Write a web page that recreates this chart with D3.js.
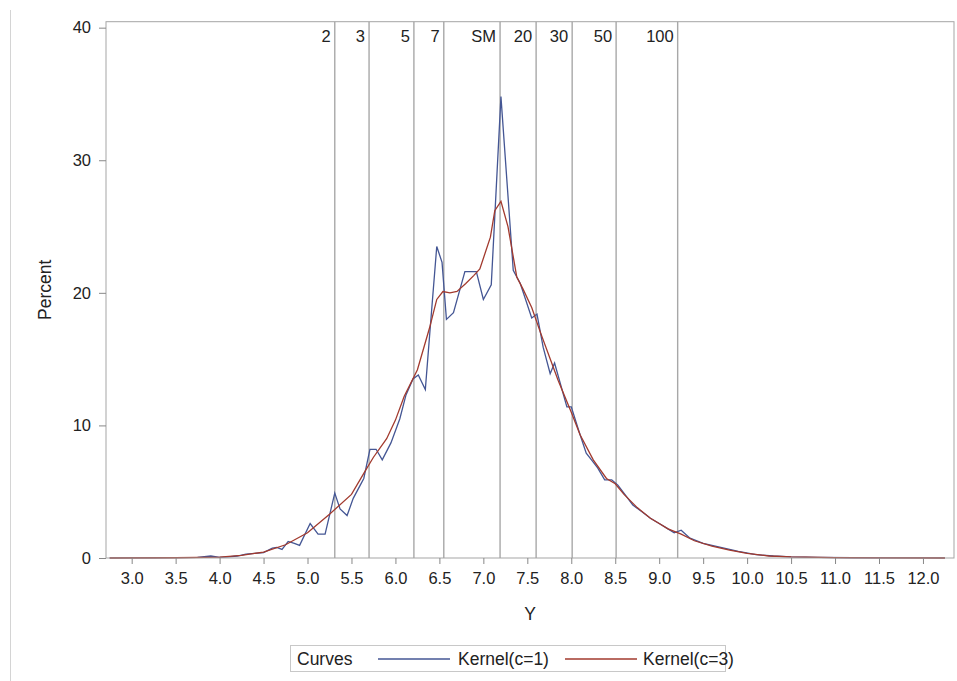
<!DOCTYPE html>
<html>
<head>
<meta charset="utf-8">
<script src="https://cdn.jsdelivr.net/npm/d3@7"></script>
<style>
  body { margin: 0; background: #fff; }
  text { font-family: "Liberation Sans", Arial, sans-serif; fill: #222; }
</style>
</head>
<body>
<div id="chart"></div>
<script>
// kernel c=1 (blue)
var k1X = [2.75, 3.0, 3.25, 3.5, 3.75, 3.9, 4.0, 4.1, 4.2, 4.3, 4.4, 4.5, 4.6, 4.65, 4.71, 4.78, 4.85, 4.91,
  5.03, 5.12, 5.2, 5.31, 5.37, 5.45, 5.52, 5.6, 5.64, 5.71, 5.78, 5.85, 5.95, 6.05, 6.12, 6.2, 6.26, 6.34,
  6.39, 6.47, 6.53, 6.58, 6.66, 6.79, 6.92, 7.0, 7.09, 7.2, 7.34, 7.42, 7.55, 7.61, 7.68, 7.76, 7.81, 7.95,
  8.0, 8.09, 8.17, 8.23, 8.3, 8.38, 8.46, 8.53, 8.62, 8.7, 8.8, 8.9, 9.0, 9.1, 9.17, 9.25, 9.35, 9.5, 9.7,
  9.9, 10.1, 10.3, 10.5, 10.8, 11.2, 11.6, 12.0, 12.25];
var k1Y = [0.0, 0.01, 0.02, 0.03, 0.05, 0.15, 0.05, 0.08, 0.15, 0.3, 0.35, 0.4, 0.75, 0.8, 0.65, 1.25, 1.1, 0.95,
  2.6, 1.8, 1.8, 4.9, 3.7, 3.2, 4.5, 5.5, 6.0, 8.2, 8.2, 7.4, 8.7, 10.5, 12.3, 13.5, 13.8, 12.7,
  16.9, 23.5, 22.3, 18.0, 18.5, 21.6, 21.6, 19.5, 20.6, 34.8, 21.7, 20.7, 18.1, 18.4, 15.9, 13.9, 14.7, 11.4,
  11.4, 9.5, 7.9, 7.4, 6.8, 5.9, 5.9, 5.5, 4.7, 4.0, 3.5, 3.0, 2.6, 2.2, 1.9, 2.1, 1.5, 1.1, 0.8,
  0.5, 0.25, 0.15, 0.08, 0.04, 0.02, 0.01, 0.01, 0.0];

// kernel c=3 (red)
var k3X = [2.75, 3.5, 4.0, 4.25, 4.5, 4.75, 5.0, 5.25, 5.5, 5.65, 5.75, 5.9, 6.0, 6.1, 6.25, 6.39, 6.47, 6.54,
  6.62, 6.7, 6.8, 6.89, 6.96, 7.08, 7.13, 7.2, 7.28, 7.38, 7.45, 7.55, 7.65, 7.75, 7.85, 8.0, 8.1, 8.25,
  8.4, 8.5, 8.6, 8.75, 8.9, 9.0, 9.1, 9.25, 9.4, 9.6, 9.8, 10.0, 10.25, 10.5, 11.0, 11.5, 12.25];
var k3Y = [0.0, 0.02, 0.07, 0.2, 0.45, 1.0, 1.9, 3.3, 4.8, 6.5, 7.6, 9.0, 10.4, 12.2, 14.2, 17.4, 19.5, 20.1,
  20.0, 20.1, 20.7, 21.3, 21.8, 24.2, 26.2, 26.9, 25.0, 21.2, 20.3, 18.9, 17.0, 15.2, 13.4, 11.0, 9.3, 7.4,
  6.0, 5.6, 4.8, 3.8, 3.0, 2.6, 2.2, 1.8, 1.3, 0.9, 0.6, 0.35, 0.15, 0.08, 0.03, 0.01, 0.0];

// reference lines
var refX = [5.31, 5.70, 6.21, 6.55, 7.19, 7.60, 8.01, 8.51, 9.21];
var refLabels = ["2", "3", "5", "7", "SM", "20", "30", "50", "100"];

var xTicks = d3.range(3, 12.01, 0.5);
var yTicks = [0, 10, 20, 30, 40];

var W = 957, H = 681;
var pLeft = 106, pRight = 954, pTop = 21.7, pBottom = 558;

var svg = d3.select("#chart").append("svg").attr("width", W).attr("height", H);

// page border on the left
svg.append("line").attr("x1", 10.5).attr("x2", 10.5).attr("y1", 10).attr("y2", H)
  .attr("stroke", "#d4d4d4").attr("stroke-width", 1);

var x = d3.scaleLinear().domain([2.708, 12.353]).range([pLeft, pRight]);
var y = d3.scaleLinear().domain([0, 40.45]).range([pBottom, pTop]);

// reference lines + labels
refX.forEach(function (v, i) {
  svg.append("line")
    .attr("x1", x(v)).attr("x2", x(v)).attr("y1", pTop).attr("y2", pBottom)
    .attr("stroke", "#a8a8a8").attr("stroke-width", 1.4);
  svg.append("text")
    .attr("x", x(v) - 4).attr("y", 41.5)
    .attr("text-anchor", "end")
    .style("font-size", "16.5px")
    .text(refLabels[i]);
});

// curves
var line = d3.line().x(function (d) { return x(d[0]); }).y(function (d) { return y(d[1]); });
var k1 = k1X.map(function (v, i) { return [v, k1Y[i]]; });
var k3 = k3X.map(function (v, i) { return [v, k3Y[i]]; });

svg.append("path").datum(k1).attr("d", line)
  .attr("fill", "none").attr("stroke", "#445694").attr("stroke-width", 1.3);
svg.append("path").datum(k3).attr("d", line)
  .attr("fill", "none").attr("stroke", "#A23A2E").attr("stroke-width", 1.3);

// frame
svg.append("rect").attr("x", pLeft).attr("y", pTop)
  .attr("width", pRight - pLeft).attr("height", pBottom - pTop)
  .attr("fill", "none").attr("stroke", "#a5a5a5").attr("stroke-width", 1);

// axes
var xAxis = d3.axisBottom(x).tickValues(xTicks).tickSize(6).tickPadding(8)
  .tickFormat(d3.format(".1f"));
var gx = svg.append("g").attr("transform", "translate(0," + pBottom + ")").call(xAxis);
gx.select(".domain").remove();
gx.selectAll("line").attr("stroke", "#888");
gx.selectAll("text").style("font-size", "16.5px").attr("fill", "#222");

var yAxis = d3.axisLeft(y).tickValues(yTicks).tickSize(7).tickPadding(8);
var gy = svg.append("g").attr("transform", "translate(" + pLeft + ",0)").call(yAxis);
gy.select(".domain").remove();
gy.selectAll("line").attr("stroke", "#888");
gy.selectAll("text").style("font-size", "16.5px").attr("fill", "#222");

// axis titles
svg.append("text").attr("x", (pLeft + pRight) / 2).attr("y", 620)
  .attr("text-anchor", "middle").style("font-size", "17.5px").text("Y");
svg.append("text")
  .attr("transform", "translate(51," + ((pTop + pBottom) / 2) + ") rotate(-90)")
  .attr("text-anchor", "middle").style("font-size", "17.5px").text("Percent");

// legend
var lg = svg.append("g");
lg.append("rect").attr("x", 290.5).attr("y", 645.5).attr("width", 435).attr("height", 26)
  .attr("fill", "#fff").attr("stroke", "#c8c8c8");
lg.append("text").attr("x", 297).attr("y", 665).style("font-size", "17.5px").text("Curves");
lg.append("line").attr("x1", 378).attr("x2", 450).attr("y1", 659).attr("y2", 659)
  .attr("stroke", "#445694").attr("stroke-width", 1.3);
lg.append("text").attr("x", 458).attr("y", 665).style("font-size", "17.5px").text("Kernel(c=1)");
lg.append("line").attr("x1", 565).attr("x2", 637).attr("y1", 659).attr("y2", 659)
  .attr("stroke", "#A23A2E").attr("stroke-width", 1.3);
lg.append("text").attr("x", 643).attr("y", 665).style("font-size", "17.5px").text("Kernel(c=3)");
</script>
</body>
</html>
